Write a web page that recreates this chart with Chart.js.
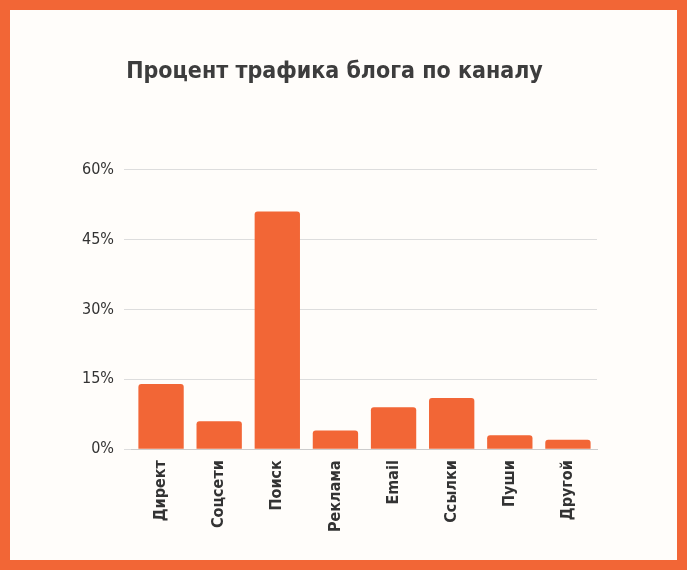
<!DOCTYPE html>
<html>
<head>
<meta charset="utf-8">
<script src="https://cdn.jsdelivr.net/npm/chart.js@4"></script>
<style>
  html, body { margin: 0; padding: 0; }
  body { width: 687px; height: 570px; box-sizing: border-box; border: 10px solid #f26636; background: #fffdfa; }
  #wrap { width: 667px; height: 550px; }
</style>
</head>
<body>
<div id="wrap"><canvas id="trafficChart"></canvas></div>
<script>
const channels = ['Директ', 'Соцсети', 'Поиск', 'Реклама', 'Email', 'Ссылки', 'Пуши', 'Другой'];
const shares = [14, 6, 51, 4, 9, 11, 3, 2];
const yTicks = [0, 15, 30, 45, 60];

const fontName = "'Liberation Sans Narrow', 'DejaVu Sans Condensed', 'Roboto', sans-serif";

new Chart(document.getElementById('trafficChart'), {
  type: 'bar',
  data: {
    labels: channels,
    datasets: [{
      data: shares,
      backgroundColor: '#f26636',
      borderRadius: { topLeft: 3, topRight: 3 },
      borderSkipped: 'bottom',
      barPercentage: 0.78,
      categoryPercentage: 1
    }]
  },
  options: {
    responsive: true,
    maintainAspectRatio: false,
    animation: false,
    layout: { padding: { left: 62, right: 80, top: 28, bottom: 25 } },
    plugins: {
      legend: { display: false },
      tooltip: { enabled: false },
      title: {
        display: true,
        text: 'Процент трафика блога по каналу',
        color: '#3d3d3d',
        font: { family: fontName, size: 23, weight: 'bold' },
        padding: { top: 20, bottom: 84 }
      }
    },
    scales: {
      x: {
        grid: { display: false },
        border: { color: '#cccccc' },
        ticks: {
          color: '#333333',
          maxRotation: 90,
          minRotation: 90,
          font: { family: fontName, size: 16, weight: 'bold' }
        }
      },
      y: {
        min: 0,
        max: 60,
        afterBuildTicks: axis => { axis.ticks = yTicks.map(v => ({ value: v })); },
        grid: { color: '#dddddd' },
        border: { display: false },
        ticks: {
          color: '#333333',
          padding: 10,
          font: { family: fontName, size: 16 },
          callback: v => v + '%'
        }
      }
    }
  }
});
</script>
</body>
</html>
